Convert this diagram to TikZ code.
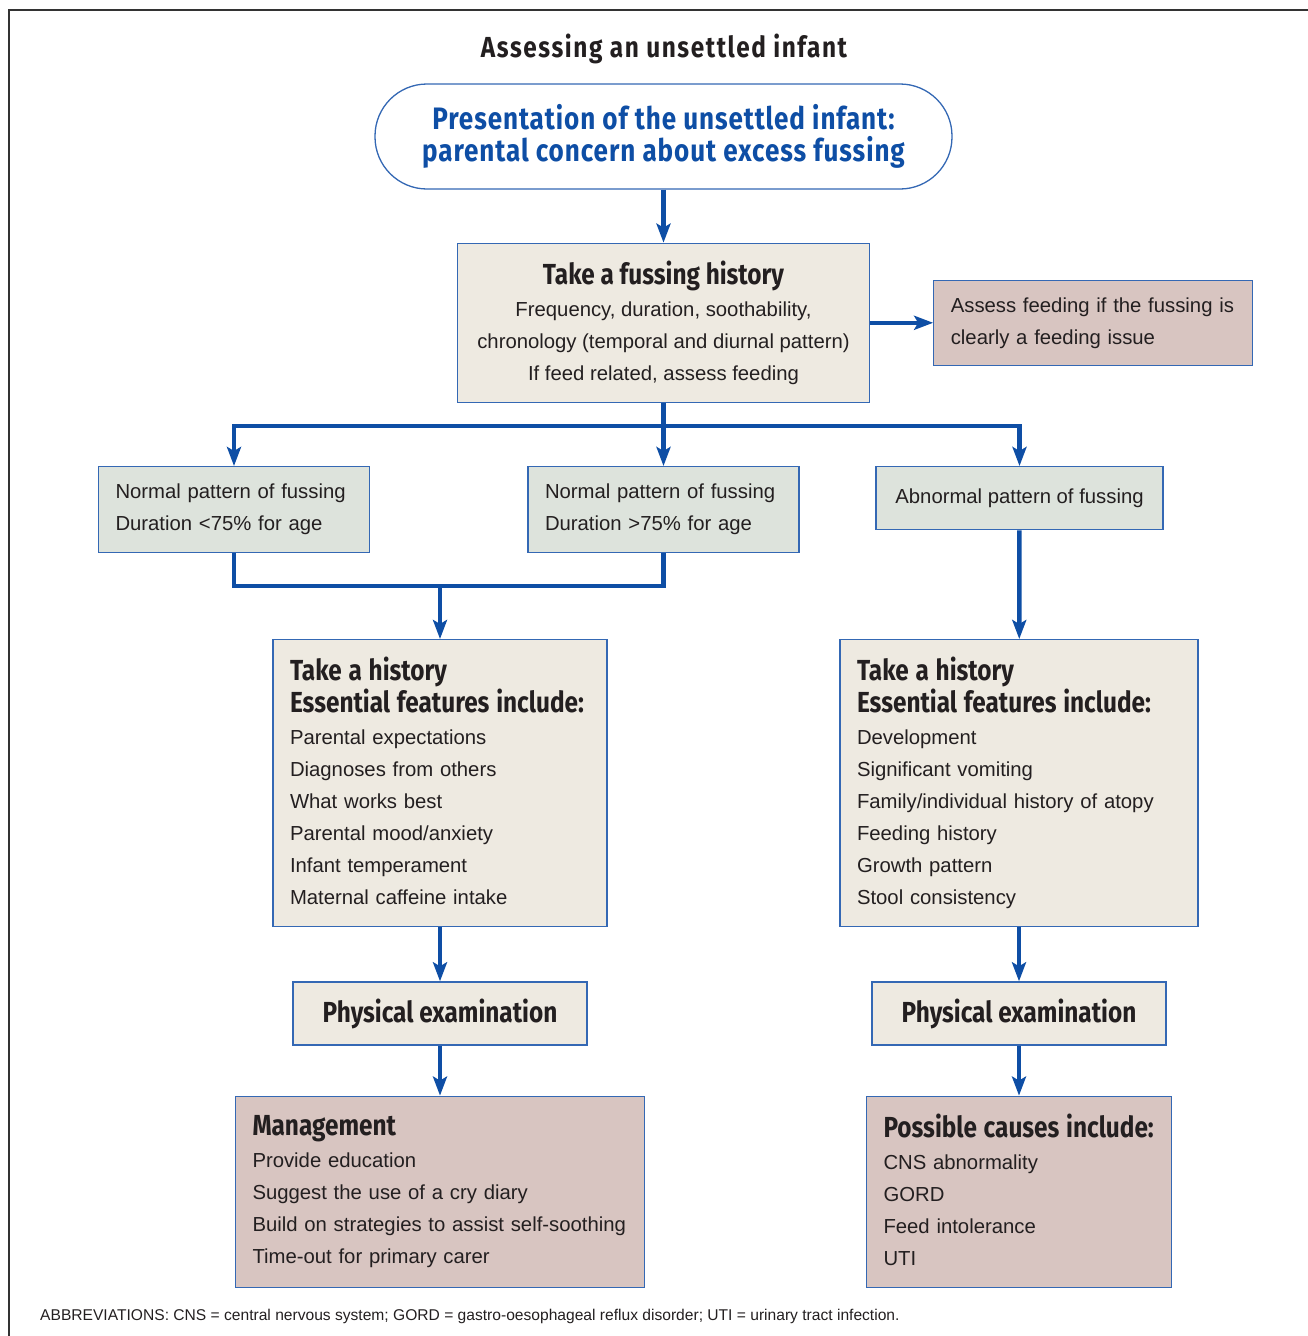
\documentclass[tikz,border=0pt]{standalone}
\usepackage{fontspec}
\setmainfont{Liberation Sans}
\newfontfamily\headfont[FakeStretch=0.84]{Fira Sans}
\usetikzlibrary{positioning, arrows.meta}
\hyphenpenalty=10000
\definecolor{connblue}{HTML}{0E4EA5}
\definecolor{edgeblue}{HTML}{3468B4}
\definecolor{notebeige}{HTML}{EEEAE1}
\definecolor{patterngrey}{HTML}{DDE3DC}
\definecolor{resultpink}{HTML}{D8C5C1}
\definecolor{ink}{HTML}{231F20}
\newcommand\hd[1]{{\headfont\bfseries\fontsize{29}{32}\selectfont #1}}
\tikzset{
  box/.style     = {rectangle, draw=edgeblue, line width=1.3pt, inner xsep=17pt,
                    inner ysep=0pt, text=ink, font=\fontsize{20.3}{32}\selectfont},
  hist/.style    = {box, fill=notebeige},
  patt/.style    = {box, fill=patterngrey},
  res/.style     = {box, fill=resultpink},
  pill/.style    = {rectangle, rounded corners=52pt, draw=edgeblue, line width=1.3pt,
                    fill=white, align=center, text=connblue, minimum width=577pt,
                    minimum height=105pt,
                    font=\headfont\bfseries\fontsize{31}{32}\selectfont\addfontfeature{LetterSpace=3}},
  exam/.style    = {hist, minimum width=294pt, minimum height=63pt,
                    font=\headfont\bfseries\fontsize{29}{32}\selectfont},
  link/.style    = {line width=4.5pt, draw=connblue},
  flow/.style    = {link, -{Stealth[length=19pt, width=14pt, inset=4pt]}},
}

\begin{document}
\begin{tikzpicture}[x=1pt, y=-1pt]
\useasboundingbox (0,0) rectangle (1308,1336);
\draw [line width=1.6pt, draw=black!80] (9,1336) |- (1308,10);

\node (title) [text=ink,
  font=\headfont\bfseries\fontsize{29}{32}\selectfont\addfontfeature{LetterSpace=5.5}]
  at (664,49) {Assessing an unsettled infant};

% Top of the chart
\node (pres) [pill] at (663.5,136.5) {Presentation of the unsettled infant:\\
  parental concern about excess fussing};
\node (fus) [hist, below=53pt of pres, align=center, minimum width=412pt,
  minimum height=159pt] {\hd{Take a fussing history}\\
  Frequency, duration, soothability,\\
  chronology (temporal and diurnal pattern)\\
  If feed related, assess feeding};
\node (feed) [res, right=63pt of fus, align=left, text width=285pt,
  minimum height=85pt] {Assess feeding if the fussing is\\clearly a feeding issue};

% Row of fussing patterns
\node (normlow) [patt, anchor=north, align=left, text width=237pt,
  minimum height=86pt] at (234,466) {Normal pattern of fussing\\Duration <75\% for age};
\node (normhigh) [patt, anchor=north, align=left, text width=237pt,
  minimum height=86pt] at (663.5,466) {Normal pattern of fussing\\Duration >75\% for age};
\node (abn) [patt, anchor=north, minimum width=287pt,
  minimum height=63pt] at (1019.5,466) {Abnormal pattern of fussing};

% Left column
\node (histL) [hist, anchor=north, align=left, text width=300pt,
  minimum height=287pt] at (440,639) {\hd{Take a history}\\
  \hd{Essential features include:}\\
  Parental expectations\\
  Diagnoses from others\\
  What works best\\
  Parental mood/anxiety\\
  Infant temperament\\
  Maternal caffeine intake\vphantom{p}};
\node (examL) [exam, below=54pt of histL] {Physical examination};
\node (mgmt) [res, below=50pt of examL, align=left, text width=375pt,
  minimum height=191pt] {\hd{Management}\\
  Provide education\\
  Suggest the use of a cry diary\\
  Build on strategies to assist self-soothing\\
  Time-out for primary carer};

% Right column
\node (histR) [hist, anchor=north, align=left, text width=324pt,
  minimum height=287pt] at (1019,639) {\hd{Take a history}\\
  \hd{Essential features include:}\\
  Development\\
  Significant vomiting\\
  Family/individual history of atopy\\
  Feeding history\\
  Growth pattern\\
  Stool consistency};
\node (examR) [exam, below=54pt of histR] {Physical examination};
\node (causes) [res, below=50pt of examR, align=left, text width=271pt,
  minimum height=191pt] {\hd{Possible causes include:}\\
  CNS abnormality\\
  GORD\\
  Feed intolerance\\
  UTI\vphantom{p}};

\node (abbr) [anchor=west, text=ink, inner sep=0pt, font=\fontsize{15.6}{17}\selectfont]
  at (40,1316) {ABBREVIATIONS: CNS = central nervous system; GORD = gastro-oesophageal
  reflux disorder; UTI = urinary tract infection.};

% Connectors
\coordinate (split) at (664,426);
\coordinate (join) at (440,586);
\draw [flow] (pres) -- (fus);
\draw [flow] (fus) -- (feed);
\draw [flow] (fus.south) -- (normhigh.north);
\draw [flow] (split) -| (normlow.north);
\draw [flow] (split) -| (abn.north);
\draw [link] (normlow.south) |- (join) -| (normhigh.south);
\draw [flow] (join) -- (histL.north);
\draw [flow] (abn) -- (histR);
\draw [flow] (histL) -- (examL);
\draw [flow] (examL) -- (mgmt);
\draw [flow] (histR) -- (examR);
\draw [flow] (examR) -- (causes);

\end{tikzpicture}
\end{document}
